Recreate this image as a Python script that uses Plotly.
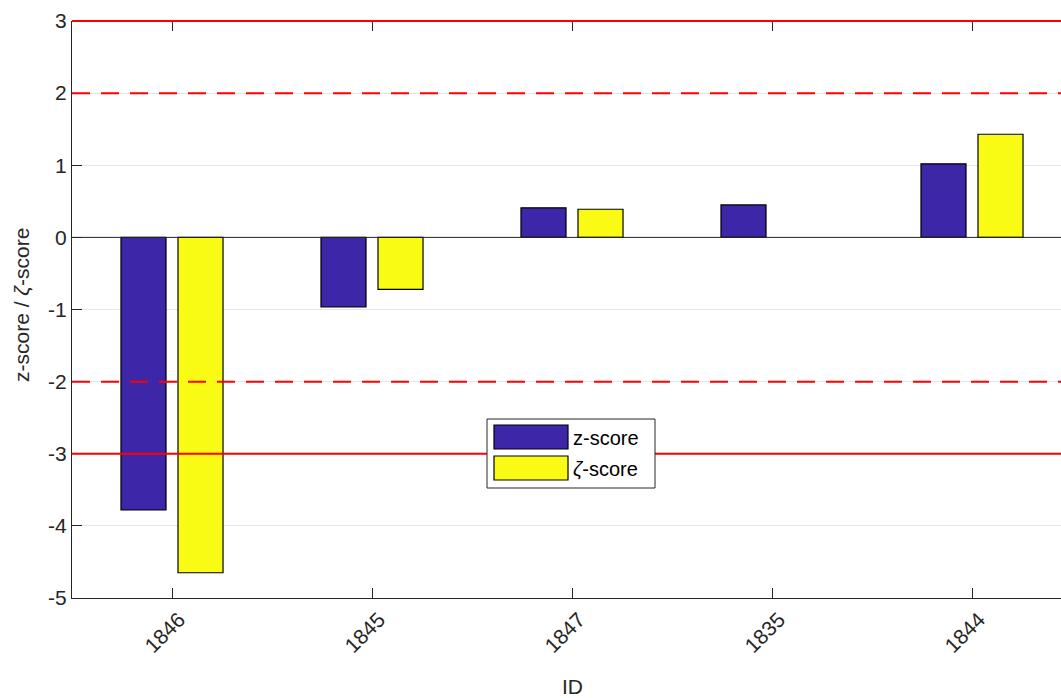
import plotly.graph_objects as go

ids = ["1846", "1845", "1847", "1835", "1844"]
z_scores = [-3.78, -0.965, 0.41, 0.45, 1.02]
zeta_scores = [-4.65, -0.72, 0.39, None, 1.43]
y_ticks = [-5, -4, -3, -2, -1, 0, 1, 2, 3]
y_tick_labels = ["-5", "-4", "-3", "-2", "-1", "0", "1", "2", "3"]
y_range = [-5, 3]
solid_limits = [3, -3]
dashed_limits = [2, -2]

blue = "#3E26A8"
yellow = "#F9FB15"
font = "Liberation Sans, Arial, sans-serif"
axcol = "#262626"

# body margin is removed by post_script, so figure coordinates = window coordinates
W, H = 1061, 698
L, R, T, B = 72, 0, 21, H - 598


def px_x(p):
    return (p - L) / (W - L - R)


def px_y(p):
    return (H - B - p) / (H - T - B)


def dom_y(v):
    return (v - y_range[0]) / (y_range[1] - y_range[0])


fig = go.Figure()
fig.add_bar(x=ids, y=z_scores, name="z-score",
            marker=dict(color=blue, line=dict(color="black", width=1.2)), showlegend=False)
fig.add_bar(x=ids, y=zeta_scores, name="ζ-score",
            marker=dict(color=yellow, line=dict(color="black", width=1.2)), showlegend=False)
# top axis ticks
fig.add_scatter(x=ids, y=[None] * len(ids), xaxis="x2", showlegend=False, hoverinfo="skip")

shapes = []
for v in solid_limits:
    shapes.append(dict(type="line", xref="paper", yref="y domain", x0=0, x1=1, y0=dom_y(v), y1=dom_y(v),
                       line=dict(color="red", width=2), layer="above"))
for v in dashed_limits:
    shapes.append(dict(type="line", xref="paper", yref="y domain", x0=0, x1=1, y0=dom_y(v), y1=dom_y(v),
                       line=dict(color="red", width=2, dash="18px,11px"), layer="above"))
# zero baseline
shapes.append(dict(type="line", xref="paper", yref="y", x0=0, x1=1, y0=0, y1=0,
                   line=dict(color=axcol, width=1), layer="above"))

# custom legend box
shapes.append(dict(type="rect", xref="paper", yref="paper", x0=px_x(487), x1=px_x(655), y0=px_y(488), y1=px_y(419),
                   line=dict(color=axcol, width=1), fillcolor="white", layer="above"))
shapes.append(dict(type="rect", xref="paper", yref="paper", x0=px_x(494), x1=px_x(568), y0=px_y(449), y1=px_y(425),
                   line=dict(color="black", width=1.2), fillcolor=blue, layer="above"))
shapes.append(dict(type="rect", xref="paper", yref="paper", x0=px_x(494), x1=px_x(568), y0=px_y(480), y1=px_y(456),
                   line=dict(color="black", width=1.2), fillcolor=yellow, layer="above"))

annotations = [
    dict(text="z-score", xref="paper", yref="paper", x=px_x(571), y=px_y(438), xanchor="left", yanchor="middle",
         showarrow=False, font=dict(family=font, size=20, color="black")),
    dict(text="<i>ζ</i>-score", xref="paper", yref="paper", x=px_x(571), y=px_y(469), xanchor="left",
         yanchor="middle", showarrow=False, font=dict(family=font, size=20, color="black")),
    dict(text="ID", xref="paper", yref="paper", x=px_x(572), y=px_y(686), xanchor="center", yanchor="middle",
         showarrow=False, font=dict(family=font, size=21, color=axcol)),
    dict(text="z-score / <i>ζ</i>-score", xref="paper", yref="paper", x=px_x(21), y=px_y(305),
         xanchor="center", yanchor="middle", textangle=-90,
         showarrow=False, font=dict(family=font, size=21, color=axcol)),
]

fig.update_layout(
    width=W, height=H,
    margin=dict(l=L, r=R, t=T, b=B),
    paper_bgcolor="white", plot_bgcolor="white",
    barmode="group", bargap=0.43, bargroupgap=0.21,
    font=dict(family=font, size=21, color=axcol),
    shapes=shapes, annotations=annotations,
    xaxis=dict(type="category", categoryorder="array", categoryarray=ids, range=[-0.5, 4.445],
               tickangle=-45, ticks="inside", ticklen=10, tickcolor=axcol, showline=True, linecolor=axcol,
               linewidth=1, showgrid=False, zeroline=False, automargin=False, ticklabelshift=7,
               tickfont=dict(size=21, color=axcol)),
    xaxis2=dict(type="category", categoryorder="array", categoryarray=ids, range=[-0.5, 4.445],
                overlaying="x", side="top", ticks="inside", ticklen=10, tickcolor=axcol, automargin=False,
                showticklabels=False, showgrid=False, showline=False, zeroline=False),
    yaxis=dict(range=y_range, tickvals=y_ticks, ticktext=y_tick_labels, ticks="inside", ticklen=10,
               tickcolor=axcol, showline=True, linecolor=axcol, linewidth=1, showgrid=True,
               gridcolor="#e5e5e5", gridwidth=1, zeroline=False, automargin=False,
               tickfont=dict(size=21, color=axcol)),
)

fig.write_html("out.html", config={"displayModeBar": False},
               post_script="document.body.style.margin='0';document.body.style.overflow='hidden';")
